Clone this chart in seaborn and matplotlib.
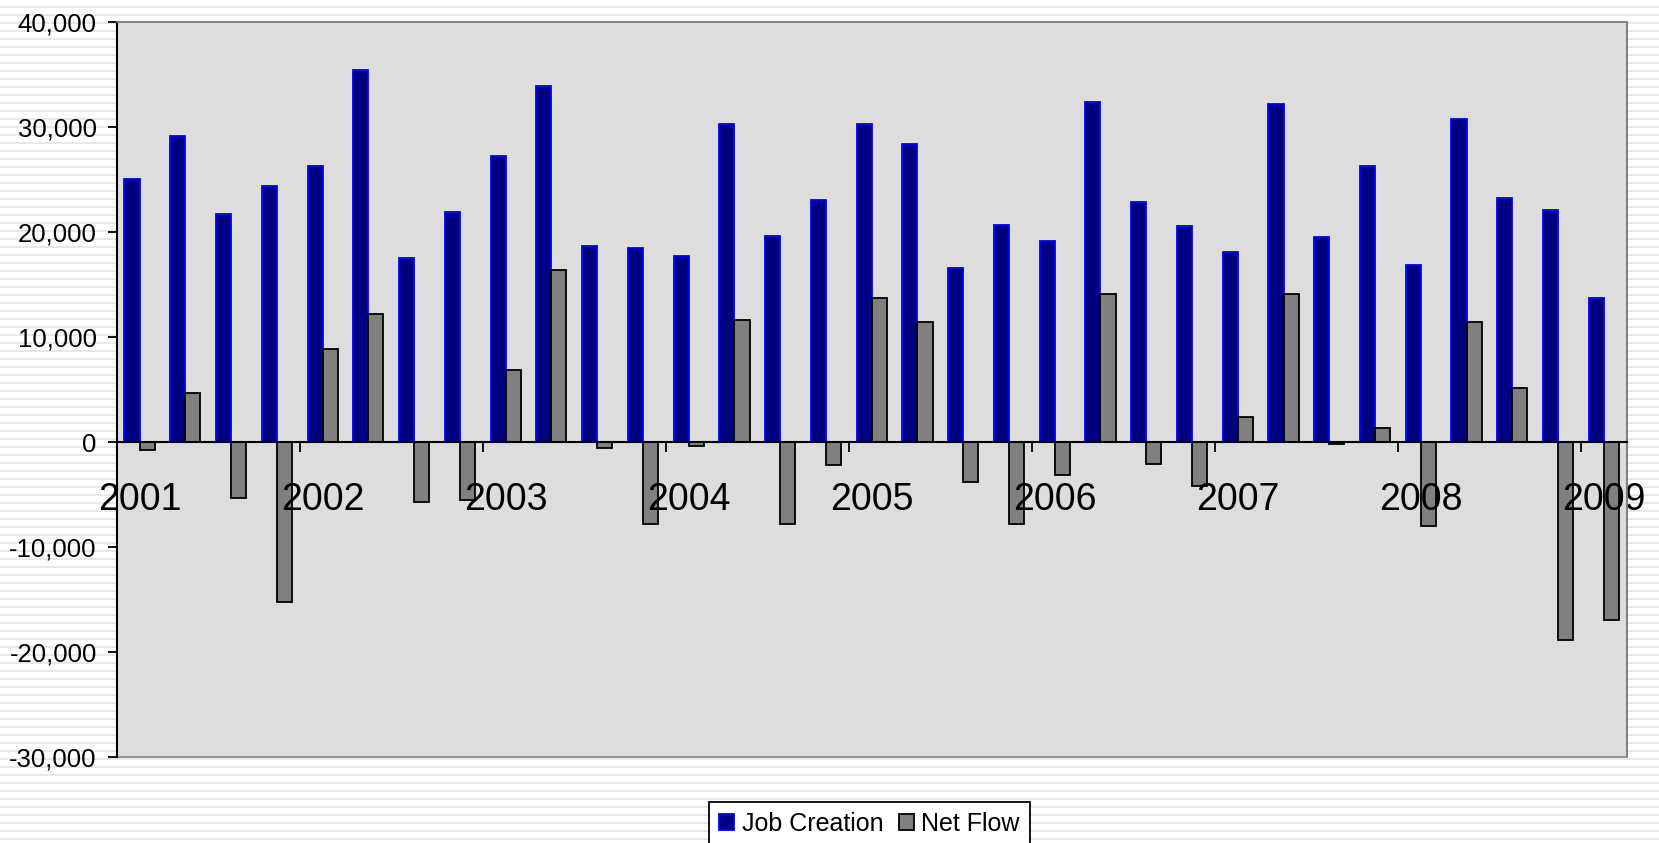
import numpy as np
import pandas as pd
import seaborn as sns
import matplotlib
matplotlib.use("Agg")
import matplotlib.pyplot as plt
from matplotlib.ticker import StrMethodFormatter, FixedLocator

# quarterly data, 2001 Q1 - 2009 Q1
years = list(range(2001, 2010))
quarters = [f"{y}Q{q}" for y in years for q in range(1, 5)][:33]

job_creation = [25000, 29100, 21700, 24400, 26300, 35400, 17500, 21900,
                27200, 33900, 18700, 18500, 17700, 30300, 19600, 23000,
                30300, 28400, 16600, 20700, 19100, 32400, 22800, 20600,
                18100, 32200, 19500, 26300, 16800, 30700, 23200, 22100,
                13700]
net_flow = [-800, 4700, -5300, -15200, 8900, 12200, -5700, -5500,
            6900, 16400, -600, -7800, -400, 11600, -7800, -2200,
            13700, 11400, -3800, -7800, -3100, 14100, -2100, -4200,
            2400, 14100, -200, 1300, -8000, 11400, 5100, -18800,
            -16900]

series_names = ["Job Creation", "Net Flow"]
year_labels = [str(y) for y in years]

df = pd.DataFrame({
    "quarter": quarters * 2,
    "series": [series_names[0]] * len(quarters) + [series_names[1]] * len(quarters),
    "value": job_creation + net_flow,
})

plt.rcParams['font.family'] = ['Liberation Sans', 'DejaVu Sans']
plt.rcParams['axes.unicode_minus'] = False

fig = plt.figure(figsize=(16.59, 8.43), dpi=100)
fig.patch.set_facecolor("white")

# striped background like the old spreadsheet chart
bg = fig.add_axes([0, 0, 1, 1], zorder=-1)
bg.set_xlim(0, 1)
bg.set_ylim(843, 0)
bg.hlines(np.arange(7.3, 843, 8), 0, 1, color="#e2e2e2", linewidth=1.1)
bg.axis("off")

ax = fig.add_axes([116.7 / 1659, 1 - 757.3 / 843, 1510 / 1659, (757.3 - 21.7) / 843])
ax.set_facecolor("#dddddd")

sns.barplot(data=df, x="quarter", y="value", hue="series", order=quarters,
            hue_order=series_names, palette=["#000080", "#808080"],
            width=0.66, saturation=1, legend=False, ax=ax)

edges = ["#0000ff", "black"]
for cont, ec in zip(ax.containers, edges):
    for bar in cont:
        bar.set_edgecolor(ec)
        bar.set_linewidth(1.3)

ax.set_ylim(-30000, 40000)
ax.set_xlim(-0.5, len(quarters) - 0.5)
ax.yaxis.set_major_formatter(StrMethodFormatter("{x:,.0f}"))
ax.set_yticks(range(-30000, 40001, 10000))
ax.tick_params(axis="y", labelsize=18.5, length=6.3, width=1.3, pad=8, color="black")

ax.set_xticks(range(0, len(quarters), 4))
ax.set_xticklabels(year_labels)
ax.xaxis.set_minor_locator(FixedLocator(np.arange(3.5, len(quarters) - 1, 4)))
ax.tick_params(axis="x", which="major", length=0, labelsize=27, pad=29)
ax.tick_params(axis="x", which="minor", length=7, width=1.3, color="black")
ax.set_xlabel("")
ax.set_ylabel("")

ax.spines["bottom"].set_position(("data", 0))
ax.spines["bottom"].set_color("black")
ax.spines["bottom"].set_linewidth(1.5)
ax.spines["left"].set_color("black")
ax.spines["left"].set_linewidth(1.5)
for side in ["top", "right"]:
    ax.spines[side].set_color("#808080")
    ax.spines[side].set_linewidth(1.2)
ax.patch.set_edgecolor("#808080")
ax.patch.set_linewidth(1.2)

fig.legend(handles=ax.containers, labels=series_names, loc="upper center",
           bbox_to_anchor=(869.5 / 1659, 1 - 801.7 / 843), ncol=2,
           fontsize=18, frameon=True, fancybox=False, framealpha=1,
           edgecolor="black", facecolor="white", handlelength=0.6,
           handleheight=0.6, handletextpad=0.3, columnspacing=0.6,
           borderpad=0.4, borderaxespad=0)
fig.legends[0].get_frame().set_linewidth(1.3)

fig.savefig("out.png", dpi=100)
